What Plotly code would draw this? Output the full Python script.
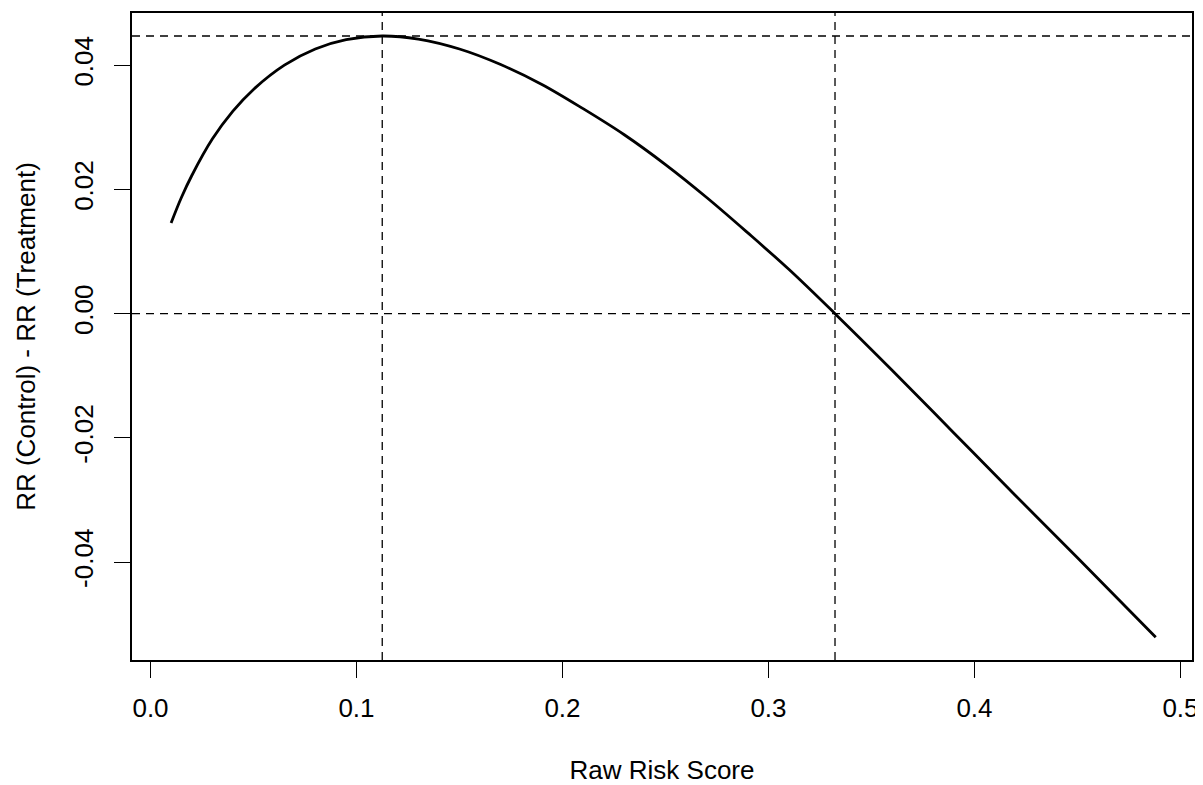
import plotly.graph_objects as go

# Curve
risk_score = [0.010, 0.015, 0.020, 0.030, 0.040, 0.050, 0.065, 0.080, 0.095, 0.1125,
              0.130, 0.150, 0.170, 0.190, 0.210, 0.230, 0.250, 0.270, 0.290, 0.310,
              0.3323, 0.360, 0.390, 0.420, 0.450, 0.488]
rr_diff = [0.0146, 0.0187, 0.0222, 0.0281, 0.0326, 0.0361, 0.0400, 0.0426, 0.0441, 0.0447,
           0.0442, 0.0426, 0.0401, 0.0369, 0.0330, 0.0288, 0.0240, 0.0187, 0.0130, 0.0071,
           0.0000, -0.0091, -0.0192, -0.0293, -0.0393, -0.0521]

# Reference (dashed) lines
vline_x = [0.1125, 0.3323]
hline_y = [0.0447, 0.0]

x_ticks = [0.0, 0.1, 0.2, 0.3, 0.4, 0.5]
x_ticklabels = ["0.0", "0.1", "0.2", "0.3", "0.4", "0.5"]
y_ticks = [-0.04, -0.02, 0.0, 0.02, 0.04]
y_ticklabels = ["-0.04", "-0.02", "0.00", "0.02", "0.04"]

fig = go.Figure()
fig.add_trace(go.Scatter(x=risk_score, y=rr_diff, mode="lines",
                         line=dict(color="black", width=2.8, shape="spline", smoothing=1.0),
                         showlegend=False, hoverinfo="skip"))

for xv in vline_x:
    fig.add_vline(x=xv, line=dict(color="black", width=1.3, dash="8px,6px"))
for yv in hline_y:
    fig.add_hline(y=yv, line=dict(color="black", width=1.3, dash="8px,6px"))

font = dict(family="Liberation Sans, Arial, sans-serif", size=26, color="black")

fig.update_layout(
    width=1195, height=777,
    margin=dict(l=124, r=11, t=3, b=122),
    paper_bgcolor="white", plot_bgcolor="white",
    font=font,
    xaxis=dict(
        range=[-0.00898, 0.5056], tickvals=x_ticks, ticktext=x_ticklabels,
        ticks="outside", ticklen=16, tickwidth=1.3, tickcolor="black",
        showline=True, linecolor="black", linewidth=1.5, mirror=True,
        showgrid=False, zeroline=False, ticklabelstandoff=8,
        title=dict(text="Raw Risk Score", standoff=41, font=font),
    ),
    yaxis=dict(
        range=[-0.05575, 0.0484], tickvals=y_ticks, ticktext=y_ticklabels,
        ticks="outside", ticklen=16, tickwidth=1.3, tickcolor="black",
        showline=True, linecolor="black", linewidth=1.5, mirror=True,
        showgrid=False, zeroline=False, tickangle=-90, ticklabelstandoff=11,
        title=dict(text="RR (Control) - RR (Treatment)", standoff=26, font=font),
    ),
)

fig.write_html("out.html")
